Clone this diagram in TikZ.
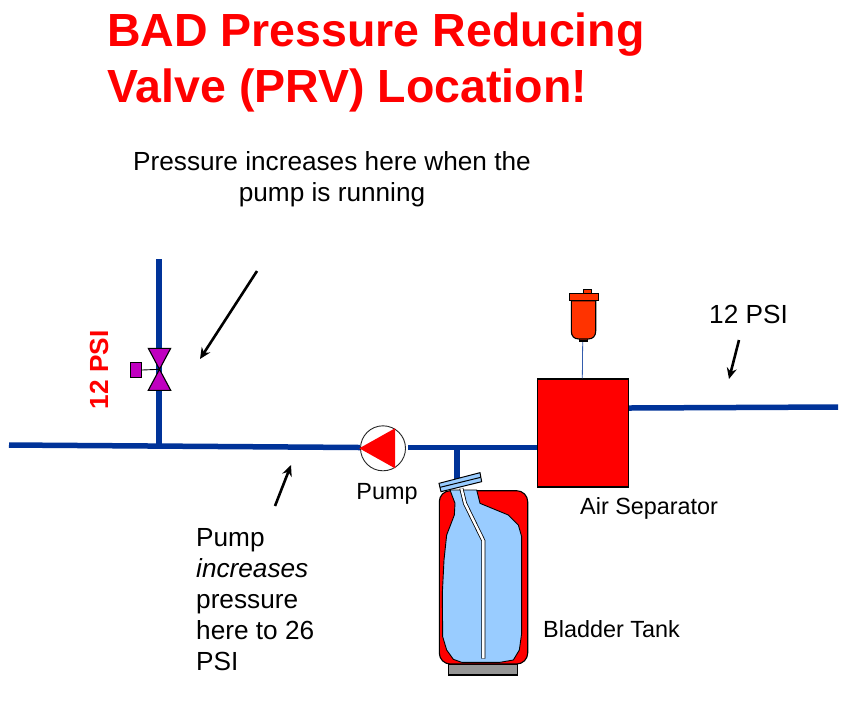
\documentclass[tikz,border=0pt]{standalone}
\usepackage{fontspec}
\setmainfont{Liberation Sans}
\usetikzlibrary{arrows.meta}
\definecolor{pipeblue}{RGB}{0,51,153}
\definecolor{magv}{RGB}{192,0,192}
\definecolor{ventred}{RGB}{255,51,0}
\definecolor{bladder}{RGB}{153,204,255}
\definecolor{basegray}{RGB}{150,150,150}
\tikzset{
  pipe/.style={draw=pipeblue,line width=5.5pt},
  lbl/.style={inner sep=0pt,font=\fontsize{26.2}{31}\selectfont,align=center,text=black},
  smalllbl/.style={inner sep=0pt,font=\fontsize{23.4}{27}\selectfont,text=black},
  titlelbl/.style={inner sep=0pt,anchor=west,font=\fontsize{46.5}{54}\selectfont\bfseries,text=red},
  pointer/.style={draw=black,line width=2.6pt,-{Stealth[length=11pt,width=10pt]}},
  outl/.style={draw=black,line width=1.1pt},
}
\begin{document}
\begin{tikzpicture}[x=1pt,y=-1pt]
\useasboundingbox (0,0) rectangle (842,716);
\fill[white] (0,0) rectangle (842,716);

% free pipe ends and pointer ends
\coordinate (pL) at (9,445);
\coordinate (pR) at (838,407);
\coordinate (vT) at (159,259);
\coordinate (tee1) at (159,445.5);
\coordinate (tee2) at (457,447.5);
\coordinate (a1s) at (257,271);
\coordinate (a1e) at (200,359);
\coordinate (a2s) at (739,340);
\coordinate (a2e) at (729,379);
\coordinate (a3s) at (275,506);
\coordinate (a3e) at (291,465);

% pipes
\draw[pipe] (pL) -- (360,447.5);
\draw[pipe] (408,447.5) -- (537,447.5);
\draw[pipe] (629,408) -- (pR);
\draw[pipe] (vT) -- (tee1);
\draw[pipe] (tee2) -- (457,479);

% air separator
\node[fill=red,outl,minimum width=91pt,minimum height=108pt,inner sep=0pt] (sep) at (583,433) {};

% vent
\draw[draw=pipeblue!80,line width=0.8pt] (582.7,340.7) -- (sep.north -| 582.3,0);
\draw[outl,fill=ventred] (579.3,338.5) rectangle (587.3,341);
\draw[outl,fill=ventred] (571.3,300.7) -- (571.3,331) .. controls (571.3,336) and (574,339) .. (579,339) -- (588,339) .. controls (593,339) and (595.7,336) .. (595.7,331) -- (595.7,300.7) -- cycle;
\draw[outl,fill=ventred] (583.3,289.3) rectangle (591.7,293.3);
\draw[outl,fill=ventred] (569.3,293.3) rectangle (598.3,300.7);

% valve
\coordinate (vC) at (159.5,369.3);
\draw[outl,fill=magv] (148.3,348.3) -- (170.7,348.3) -- (vC) -- cycle;
\draw[outl,fill=magv] (148.3,390.3) -- (170.7,390.3) -- (vC) -- cycle;
\node[fill=magv,outl,minimum width=11pt,minimum height=15pt,inner sep=0pt] (act) at (136,370) {};
\draw[black,line width=0.9pt] (act.east) -- (vC);

% pump
\node[circle,fill=white,draw=black!85,line width=0.9pt,minimum size=45pt,inner sep=0pt] (pump) at (383,448.3) {};
\fill[red] (359.3,448.3) -- (395,428.3) -- (395,468.3) -- cycle;

% tank
\draw[outl,fill=basegray] (448.3,664) rectangle (517.7,675);
\draw[outl,fill=red,rounded corners=11pt] (439.3,490.7) rectangle (527.7,664);
\begin{scope}[shift={(420,460)},x=0.3333pt,y=-0.3333pt]
\draw[draw=black,line width=0.9pt,fill=bladder]
  (90,90) -- (105,130) -- (103,165) -- (80,225) -- (72,300) -- (67,400) -- (68,530) -- (80,570) -- (100,598) -- (125,607) -- (240,607) -- (280,600) -- (298,570) -- (305,520) -- (305,230) -- (295,195) -- (265,165) -- (180,130) -- (170,90) -- cycle;
\draw[line width=4pt,black,line join=miter] (124,85) -- (135,130) -- (190,242) -- (190,596);
\draw[line width=2.4pt,white,line join=miter] (124,85) -- (135,130) -- (190,242) -- (190,595.5);
\draw[draw=black,line width=1pt,fill=bladder] (57,70) -- (180,38) -- (185,65) -- (63,95) -- cycle;
\draw[black,line width=1pt] (60,82) -- (182,52);
\end{scope}

% pointers
\draw[pointer] (a1s) -- (a1e);
\draw[pointer] (a2s) -- (a2e);
\draw[pointer] (a3s) -- (a3e);

% texts
\node[titlelbl] (t1) at (107,34.5) {BAD Pressure Reducing};
\node[titlelbl] (t2) at (107,90) {Valve (PRV) Location!};
\node[lbl] (inc) at (332,179) {Pressure increases here when the\\pump is running};
\node[lbl,anchor=west] (psi1) at (709,314) {12 PSI};
\node[lbl,anchor=center,rotate=90,text=red,font=\fontsize{26.2}{31}\selectfont\bfseries] (psi2) at (99,370) {12 PSI};
\node[smalllbl] (pl) at (387,494) {Pump};
\node[smalllbl,anchor=west] (asl) at (580,508) {Air Separator};
\node[smalllbl,anchor=west] (btl) at (543,629) {Bladder Tank};
\node[lbl,anchor=north west,align=left] (pinc) at (196,528.5) {Pump\\\itshape increases\\pressure\\here to 26\\PSI};
\end{tikzpicture}
\end{document}
